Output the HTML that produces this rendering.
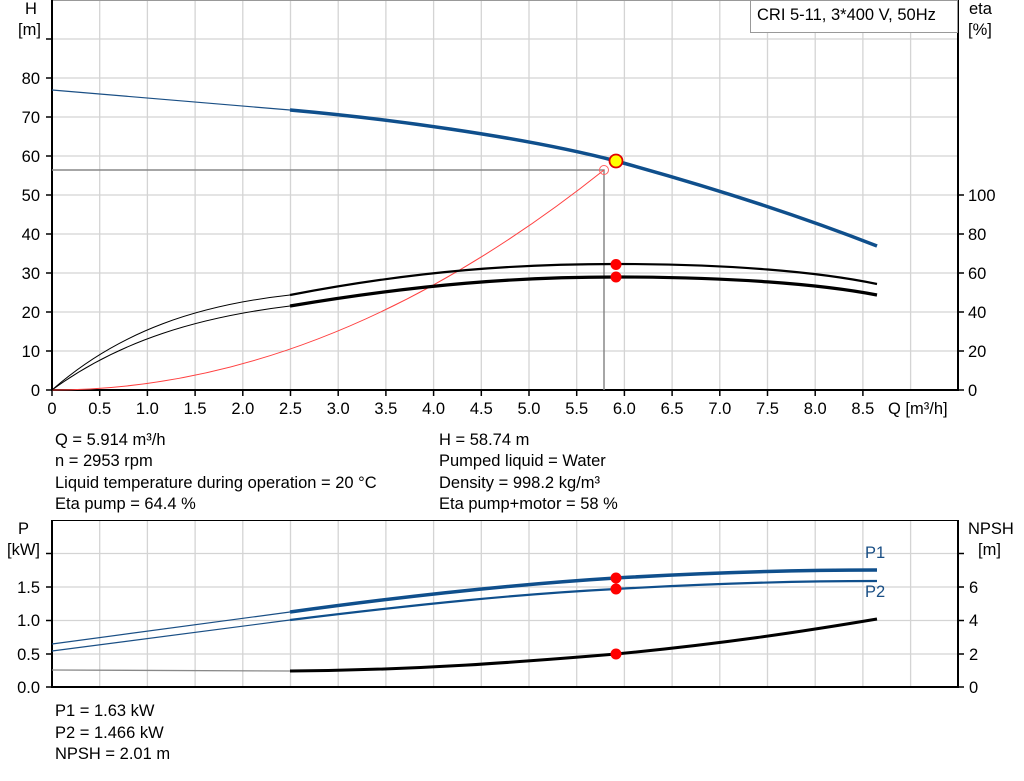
<!DOCTYPE html>
<html><head><meta charset="utf-8"><style>
html,body{margin:0;padding:0;background:#fff;}
svg{display:block;font-family:"Liberation Sans",Arial,sans-serif;}
</style></head><body>
<svg width="1024" height="781" viewBox="0 0 1024 781" xmlns="http://www.w3.org/2000/svg">
<g stroke="#d4d4d4" stroke-width="1.3">
<line x1="99.7" y1="0" x2="99.7" y2="390"/><line x1="147.4" y1="0" x2="147.4" y2="390"/><line x1="195.1" y1="0" x2="195.1" y2="390"/><line x1="242.8" y1="0" x2="242.8" y2="390"/><line x1="290.5" y1="0" x2="290.5" y2="390"/><line x1="338.2" y1="0" x2="338.2" y2="390"/><line x1="385.9" y1="0" x2="385.9" y2="390"/><line x1="433.6" y1="0" x2="433.6" y2="390"/><line x1="481.3" y1="0" x2="481.3" y2="390"/><line x1="529" y1="0" x2="529" y2="390"/><line x1="576.7" y1="0" x2="576.7" y2="390"/><line x1="624.4" y1="0" x2="624.4" y2="390"/><line x1="672.1" y1="0" x2="672.1" y2="390"/><line x1="719.8" y1="0" x2="719.8" y2="390"/><line x1="767.5" y1="0" x2="767.5" y2="390"/><line x1="815.2" y1="0" x2="815.2" y2="390"/><line x1="862.9" y1="0" x2="862.9" y2="390"/><line x1="910.6" y1="0" x2="910.6" y2="390"/>
<line x1="52" y1="39" x2="958" y2="39"/><line x1="52" y1="78" x2="958" y2="78"/><line x1="52" y1="117" x2="958" y2="117"/><line x1="52" y1="156" x2="958" y2="156"/><line x1="52" y1="195" x2="958" y2="195"/><line x1="52" y1="234" x2="958" y2="234"/><line x1="52" y1="273" x2="958" y2="273"/><line x1="52" y1="312" x2="958" y2="312"/><line x1="52" y1="351" x2="958" y2="351"/>
</g>
<line x1="52" y1="0.5" x2="958" y2="0.5" stroke="#999" stroke-width="1"/>
<g stroke="#000" stroke-width="2" fill="none">
<line x1="52" y1="0" x2="52" y2="391"/><line x1="958" y1="0" x2="958" y2="391"/><line x1="51" y1="390" x2="959" y2="390"/>
</g>
<g stroke="#000" stroke-width="1.5">
<line x1="46" y1="390" x2="52" y2="390"/><line x1="46" y1="351" x2="52" y2="351"/><line x1="46" y1="312" x2="52" y2="312"/><line x1="46" y1="273" x2="52" y2="273"/><line x1="46" y1="234" x2="52" y2="234"/><line x1="46" y1="195" x2="52" y2="195"/><line x1="46" y1="156" x2="52" y2="156"/><line x1="46" y1="117" x2="52" y2="117"/><line x1="46" y1="78" x2="52" y2="78"/><line x1="46" y1="39" x2="52" y2="39"/>
<line x1="958" y1="390" x2="964" y2="390"/><line x1="958" y1="351" x2="964" y2="351"/><line x1="958" y1="312" x2="964" y2="312"/><line x1="958" y1="273" x2="964" y2="273"/><line x1="958" y1="234" x2="964" y2="234"/><line x1="958" y1="195" x2="964" y2="195"/>
<line x1="52" y1="390" x2="52" y2="396"/><line x1="99.7" y1="390" x2="99.7" y2="396"/><line x1="147.4" y1="390" x2="147.4" y2="396"/><line x1="195.1" y1="390" x2="195.1" y2="396"/><line x1="242.8" y1="390" x2="242.8" y2="396"/><line x1="290.5" y1="390" x2="290.5" y2="396"/><line x1="338.2" y1="390" x2="338.2" y2="396"/><line x1="385.9" y1="390" x2="385.9" y2="396"/><line x1="433.6" y1="390" x2="433.6" y2="396"/><line x1="481.3" y1="390" x2="481.3" y2="396"/><line x1="529" y1="390" x2="529" y2="396"/><line x1="576.7" y1="390" x2="576.7" y2="396"/><line x1="624.4" y1="390" x2="624.4" y2="396"/><line x1="672.1" y1="390" x2="672.1" y2="396"/><line x1="719.8" y1="390" x2="719.8" y2="396"/><line x1="767.5" y1="390" x2="767.5" y2="396"/><line x1="815.2" y1="390" x2="815.2" y2="396"/><line x1="862.9" y1="390" x2="862.9" y2="396"/>
</g>
<g font-size="16.5" fill="#000" text-anchor="end">
<text x="40" y="396">0</text><text x="40" y="357">10</text><text x="40" y="318">20</text><text x="40" y="279">30</text><text x="40" y="240">40</text><text x="40" y="201">50</text><text x="40" y="162">60</text><text x="40" y="123">70</text><text x="40" y="84">80</text>
</g>
<g font-size="16.5" fill="#000">
<text x="968" y="396">0</text><text x="968" y="357">20</text><text x="968" y="318">40</text><text x="968" y="279">60</text><text x="968" y="240">80</text><text x="968" y="201">100</text>
<text x="25" y="14">H</text><text x="18" y="35">[m]</text>
<text x="969" y="14">eta</text><text x="968" y="35">[%]</text>
<text x="888" y="414">Q [m³/h]</text>
</g>
<g font-size="16.5" fill="#000" text-anchor="middle">
<text x="52" y="414">0</text><text x="99.7" y="414">0.5</text><text x="147.4" y="414">1.0</text><text x="195.1" y="414">1.5</text><text x="242.8" y="414">2.0</text><text x="290.5" y="414">2.5</text><text x="338.2" y="414">3.0</text><text x="385.9" y="414">3.5</text><text x="433.6" y="414">4.0</text><text x="481.3" y="414">4.5</text><text x="529" y="414">5.0</text><text x="576.7" y="414">5.5</text><text x="624.4" y="414">6.0</text><text x="672.1" y="414">6.5</text><text x="719.8" y="414">7.0</text><text x="767.5" y="414">7.5</text><text x="815.2" y="414">8.0</text><text x="862.9" y="414">8.5</text>
</g>
<rect x="750.5" y="0.5" width="207" height="32" fill="#fff" stroke="#999"/>
<text x="757" y="20" font-size="16.5">CRI 5-11, 3*400 V, 50Hz</text>
<polyline points="52,170 604,170 604,390" fill="none" stroke="#888" stroke-width="1.5"/>
<path d="M52,390 Q328,390 604,170" fill="none" stroke="#ff4040" stroke-width="1"/>
<circle cx="604" cy="170" r="4.5" fill="none" stroke="#ff6060" stroke-width="1"/>
<path d="M52,90 L290,110" stroke="#1a4f85" stroke-width="1.2" fill="none"/>
<path d="M290,110 C380,118 520,136 616,161 C700,184 790,212 877,246" stroke="#0f4f8c" stroke-width="3.5" fill="none"/>
<path d="M52,390 C120,330 200,305 290,295" stroke="#000" stroke-width="1" fill="none"/>
<path d="M290,295 C420,270 520,264 616,264 C730,264 820,272 877,284" stroke="#000" stroke-width="2.2" fill="none"/>
<path d="M52,390 C120,340 200,317 290,306" stroke="#000" stroke-width="1" fill="none"/>
<path d="M290,306 C420,284 520,277 616,277 C730,277 820,284 877,295" stroke="#000" stroke-width="3.2" fill="none"/>
<circle cx="616" cy="161" r="6.5" fill="#ffff00" stroke="#e00000" stroke-width="1.8"/>
<circle cx="616" cy="264.5" r="5.5" fill="#ff0000"/>
<circle cx="616" cy="277" r="5.5" fill="#ff0000"/>
<g font-size="16.5" fill="#000">
<text x="55" y="445">Q = 5.914 m³/h</text><text x="55" y="466">n = 2953 rpm</text><text x="55" y="488">Liquid temperature during operation = 20 °C</text><text x="55" y="509">Eta pump = 64.4 %</text>
<text x="439" y="445">H = 58.74 m</text><text x="439" y="466">Pumped liquid = Water</text><text x="439" y="488">Density = 998.2 kg/m³</text><text x="439" y="509">Eta pump+motor = 58 %</text>
</g>
<g stroke="#d4d4d4" stroke-width="1.3">
<line x1="99.7" y1="520" x2="99.7" y2="687"/><line x1="147.4" y1="520" x2="147.4" y2="687"/><line x1="195.1" y1="520" x2="195.1" y2="687"/><line x1="242.8" y1="520" x2="242.8" y2="687"/><line x1="290.5" y1="520" x2="290.5" y2="687"/><line x1="338.2" y1="520" x2="338.2" y2="687"/><line x1="385.9" y1="520" x2="385.9" y2="687"/><line x1="433.6" y1="520" x2="433.6" y2="687"/><line x1="481.3" y1="520" x2="481.3" y2="687"/><line x1="529" y1="520" x2="529" y2="687"/><line x1="576.7" y1="520" x2="576.7" y2="687"/><line x1="624.4" y1="520" x2="624.4" y2="687"/><line x1="672.1" y1="520" x2="672.1" y2="687"/><line x1="719.8" y1="520" x2="719.8" y2="687"/><line x1="767.5" y1="520" x2="767.5" y2="687"/><line x1="815.2" y1="520" x2="815.2" y2="687"/><line x1="862.9" y1="520" x2="862.9" y2="687"/><line x1="910.6" y1="520" x2="910.6" y2="687"/>
<line x1="52" y1="553.5" x2="958" y2="553.5"/><line x1="52" y1="587" x2="958" y2="587"/><line x1="52" y1="620.5" x2="958" y2="620.5"/><line x1="52" y1="654" x2="958" y2="654"/>
</g>
<line x1="52" y1="520.5" x2="958" y2="520.5" stroke="#000" stroke-width="1"/>
<g stroke="#000" stroke-width="2" fill="none">
<line x1="52" y1="520" x2="52" y2="688"/><line x1="958" y1="520" x2="958" y2="688"/><line x1="51" y1="687" x2="959" y2="687"/>
</g>
<g stroke="#000" stroke-width="1.5">
<line x1="46" y1="687" x2="52" y2="687"/><line x1="46" y1="654" x2="52" y2="654"/><line x1="46" y1="620.5" x2="52" y2="620.5"/><line x1="46" y1="587" x2="52" y2="587"/><line x1="46" y1="553.5" x2="52" y2="553.5"/>
<line x1="958" y1="687" x2="964" y2="687"/><line x1="958" y1="654" x2="964" y2="654"/><line x1="958" y1="620.5" x2="964" y2="620.5"/><line x1="958" y1="587" x2="964" y2="587"/><line x1="958" y1="553.5" x2="964" y2="553.5"/>
</g>
<g font-size="16.5" fill="#000" text-anchor="end">
<text x="40" y="693">0.0</text><text x="40" y="660">0.5</text><text x="40" y="626">1.0</text><text x="40" y="593">1.5</text>
</g>
<g font-size="16.5" fill="#000">
<text x="969" y="693">0</text><text x="969" y="660">2</text><text x="969" y="626">4</text><text x="969" y="593">6</text>
<text x="18" y="534">P</text><text x="7" y="555">[kW]</text>
<text x="968" y="534">NPSH</text><text x="978" y="555">[m]</text>
</g>
<text x="865" y="558" font-size="16.5" fill="#1a4f85">P1</text>
<text x="865" y="597" font-size="16.5" fill="#1a4f85">P2</text>
<path d="M52,644 L290,612" stroke="#1a4f85" stroke-width="1.2" fill="none"/>
<path d="M290,612 C420,594 520,584 616,578 C720,572 800,570 877,570" stroke="#0f4f8c" stroke-width="3.5" fill="none"/>
<path d="M52,651 L290,620" stroke="#1a4f85" stroke-width="1.2" fill="none"/>
<path d="M290,620 C420,604 520,594 616,589 C720,583 800,581 877,581" stroke="#0f4f8c" stroke-width="2.2" fill="none"/>
<path d="M52,670 L290,671" stroke="#888" stroke-width="1.3" fill="none"/>
<path d="M290,671 C420,670 520,662 616,654 C720,644 800,632 877,619" stroke="#000" stroke-width="3" fill="none"/>
<circle cx="616" cy="578" r="5.5" fill="#ff0000"/>
<circle cx="616" cy="589" r="5.5" fill="#ff0000"/>
<circle cx="616" cy="654" r="5.5" fill="#ff0000"/>
<g font-size="16.5" fill="#000">
<text x="55" y="716">P1 = 1.63 kW</text><text x="55" y="738">P2 = 1.466 kW</text><text x="55" y="759">NPSH = 2.01 m</text>
</g>
</svg>
</body></html>
